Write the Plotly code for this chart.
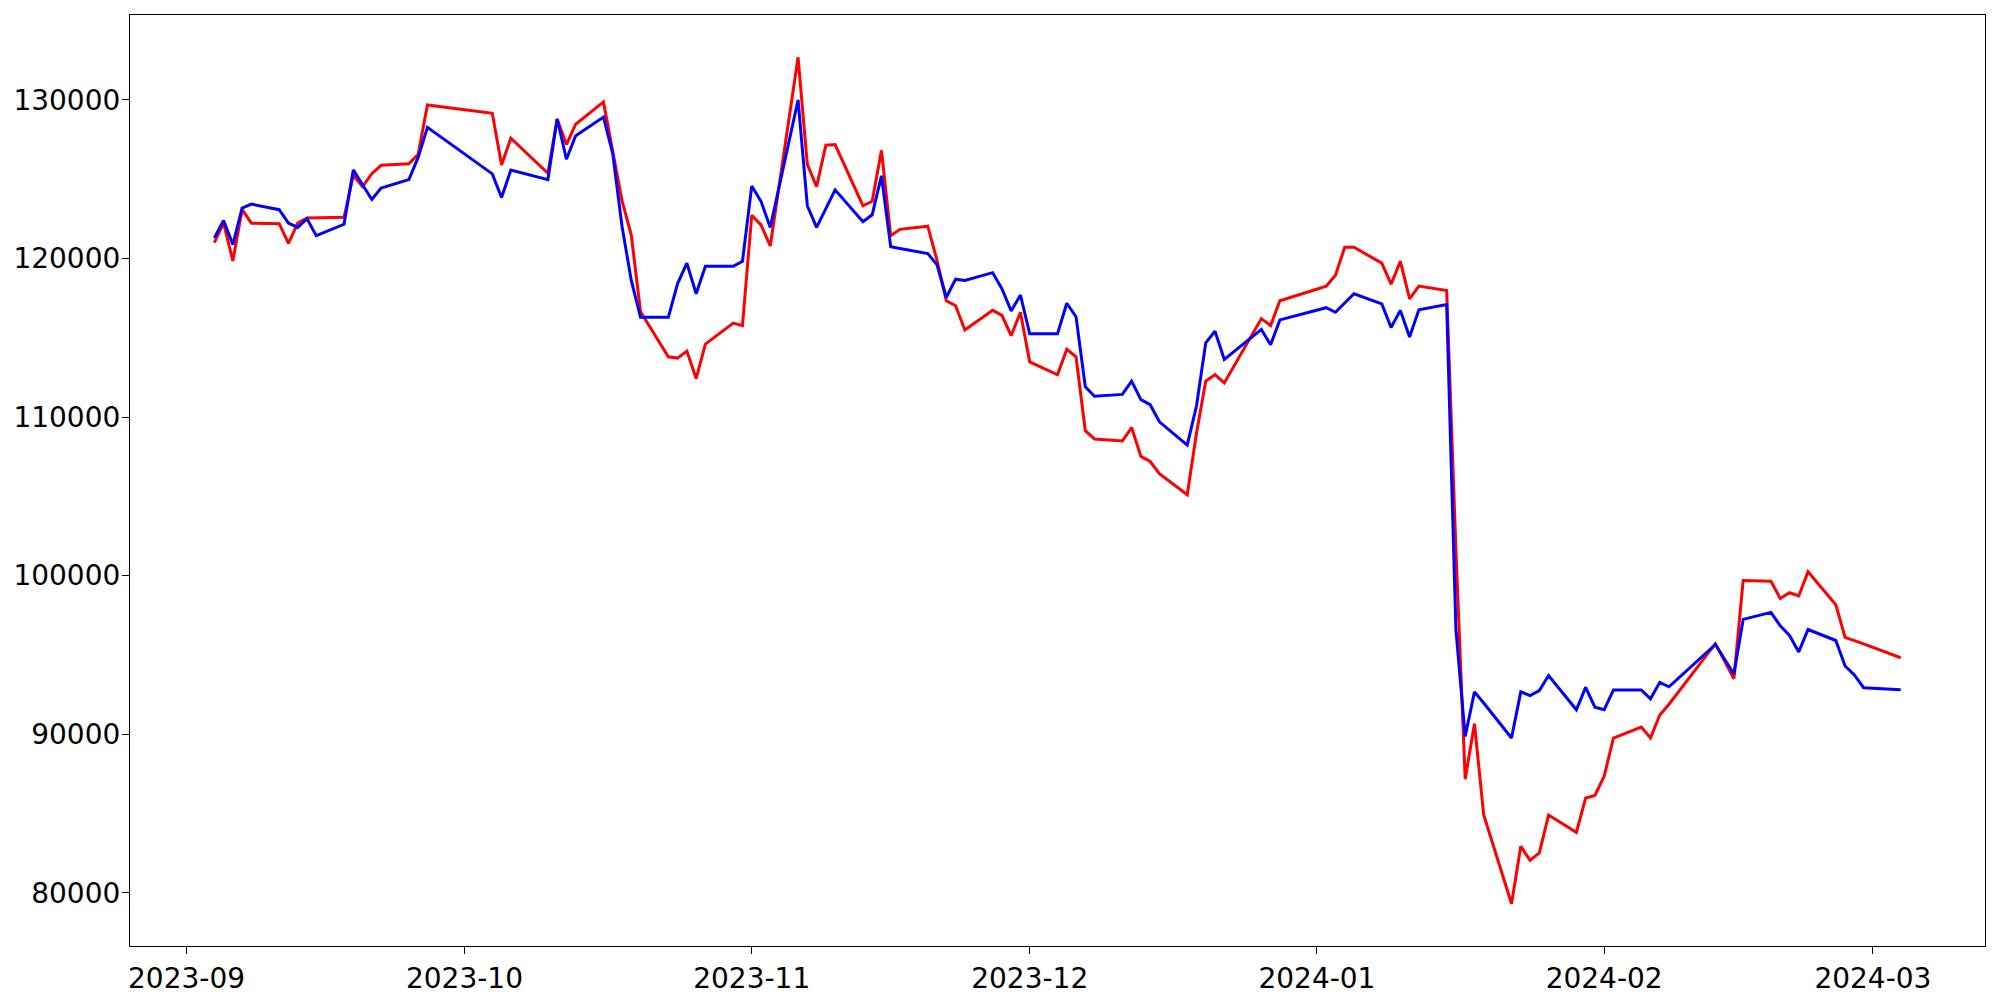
import pandas as pd
import plotly.graph_objects as go

# trading days (Korean market calendar)
dates = [
    "2023-09-04", "2023-09-05", "2023-09-06", "2023-09-07", "2023-09-08",
    "2023-09-11", "2023-09-12", "2023-09-13", "2023-09-14", "2023-09-15",
    "2023-09-18", "2023-09-19", "2023-09-20", "2023-09-21", "2023-09-22",
    "2023-09-25", "2023-09-26", "2023-09-27",
    "2023-10-04", "2023-10-05", "2023-10-06",
    "2023-10-10", "2023-10-11", "2023-10-12", "2023-10-13",
    "2023-10-16", "2023-10-17", "2023-10-18", "2023-10-19", "2023-10-20",
    "2023-10-23", "2023-10-24", "2023-10-25", "2023-10-26", "2023-10-27",
    "2023-10-30", "2023-10-31", "2023-11-01", "2023-11-02", "2023-11-03",
    "2023-11-06", "2023-11-07", "2023-11-08", "2023-11-09", "2023-11-10",
    "2023-11-13", "2023-11-14", "2023-11-15", "2023-11-16", "2023-11-17",
    "2023-11-20", "2023-11-21", "2023-11-22", "2023-11-23", "2023-11-24",
    "2023-11-27", "2023-11-28", "2023-11-29", "2023-11-30", "2023-12-01",
    "2023-12-04", "2023-12-05", "2023-12-06", "2023-12-07", "2023-12-08",
    "2023-12-11", "2023-12-12", "2023-12-13", "2023-12-14", "2023-12-15",
    "2023-12-18", "2023-12-19", "2023-12-20", "2023-12-21", "2023-12-22",
    "2023-12-26", "2023-12-27", "2023-12-28",
    "2024-01-02", "2024-01-03", "2024-01-04", "2024-01-05",
    "2024-01-08", "2024-01-09", "2024-01-10", "2024-01-11", "2024-01-12",
    "2024-01-15", "2024-01-16", "2024-01-17", "2024-01-18", "2024-01-19",
    "2024-01-22", "2024-01-23", "2024-01-24", "2024-01-25", "2024-01-26",
    "2024-01-29", "2024-01-30", "2024-01-31", "2024-02-01", "2024-02-02",
    "2024-02-05", "2024-02-06", "2024-02-07", "2024-02-08",
    "2024-02-13", "2024-02-14", "2024-02-15", "2024-02-16",
    "2024-02-19", "2024-02-20", "2024-02-21", "2024-02-22", "2024-02-23",
    "2024-02-26", "2024-02-27", "2024-02-28", "2024-02-29",
    "2024-03-04",
]

red_values = [
    121000, 122250, 119850, 123100, 122230,
    122200, 120950, 122240, 122560, 122580,
    122600, 125250, 124540, 125350, 125880,
    125980, 126580, 129680,
    129160, 125900, 127590,
    125380, 128800, 127190, 128470,
    129880, 126700, 123650, 121480, 116640,
    113800, 113720, 114160, 112430, 114600,
    115930, 115770, 122720, 122120, 120790,
    132690, 125940, 124530, 127150, 127190,
    123330, 123610, 126820, 121440, 121840,
    122040, 119870, 117340, 117020, 115490,
    116730, 116410, 115130, 116610, 113480,
    112670, 114280, 113800, 109140, 108610,
    108490, 109340, 107520, 107200, 106430,
    105100, 108980, 112270, 112670, 112150,
    116210, 115770, 117340,
    118260, 118950, 120710, 120710,
    119710, 118380, 119830, 117460, 118260,
    117980, 101600, 87160, 90660, 84900,
    79310, 82930, 82040, 82520, 84900,
    83810, 85980, 86140, 87350, 89760,
    90450, 89760, 91210, 91890,
    95710, 94600, 93500, 99690,
    99650, 98560, 98920, 98720, 100250,
    98160, 96110, 95900, 95700,
    94820,
]

blue_values = [
    121300, 122400, 120880, 123180, 123430,
    123080, 122240, 121960, 122520, 121440,
    122160, 125590, 124650, 123720, 124440,
    124980, 126380, 128270,
    125340, 123850, 125580,
    124970, 128800, 126260, 127750,
    128920, 126620, 122040, 118620, 116290,
    116290, 118420, 119710, 117780, 119510,
    119510, 119830, 124570, 123610, 121960,
    130000, 123330, 121960, 123170, 124330,
    122320, 122760, 125220, 120750, 120630,
    120310, 119600, 117540, 118700, 118620,
    119110, 118100, 116690, 117700, 115250,
    115250, 117180, 116330, 111910, 111310,
    111430, 112270, 111100, 110780, 109700,
    108230, 110700, 114680, 115410, 113640,
    115530, 114560, 116130,
    116900, 116610, 117220, 117780,
    117140, 115650, 116730, 115050, 116770,
    117100, 96590, 89850, 92670, 91970,
    89760, 92670, 92430, 92750, 93700,
    91540, 92950, 91700, 91540, 92790,
    92790, 92230, 93270, 92990,
    95660, 94740, 93800, 97240,
    97680, 96840, 96230, 95190, 96600,
    95910, 94300, 93740, 92930,
    92800,
]

y_ticks = [80000, 90000, 100000, 110000, 120000, 130000]

x = pd.to_datetime(dates)

fig = go.Figure()
fig.add_trace(go.Scatter(x=x, y=red_values, mode="lines",
                         line=dict(color="#ff0000", width=3)))
fig.add_trace(go.Scatter(x=x, y=blue_values, mode="lines",
                         line=dict(color="#0000ff", width=3)))

# matplotlib-like 5% margins around the data
span = x.max() - x.min()
x_range = [x.min() - span * 0.05, x.max() + span * 0.05]
y_all = red_values + blue_values
y_pad = (max(y_all) - min(y_all)) * 0.05
y_range = [min(y_all) - y_pad, max(y_all) + y_pad]

axis_style = dict(
    showline=True, mirror=True, linecolor="black", linewidth=1.2,
    ticks="outside", ticklen=7, tickwidth=1.2, tickcolor="black",
    showgrid=False, zeroline=False, automargin=False,
    tickfont=dict(family="DejaVu Sans", size=28, color="black"),
)

fig.update_xaxes(range=x_range, tick0="2023-09-01", dtick="M1",
                 tickformat="%Y-%m", **axis_style)
fig.update_yaxes(range=y_range, tickvals=y_ticks, ticklabelstandoff=-4,
                 ticktext=[str(v) for v in y_ticks], **axis_style)

fig.update_layout(
    width=2000, height=1000,
    margin=dict(l=130, r=15, t=15, b=54),
    paper_bgcolor="white", plot_bgcolor="white",
    showlegend=False,
    font=dict(family="DejaVu Sans"),
)

# drop the default body margin so the figure sits at the page corner
fig.write_html("out.html",
               config={"displayModeBar": False},
               post_script="document.body.style.margin='0';")
